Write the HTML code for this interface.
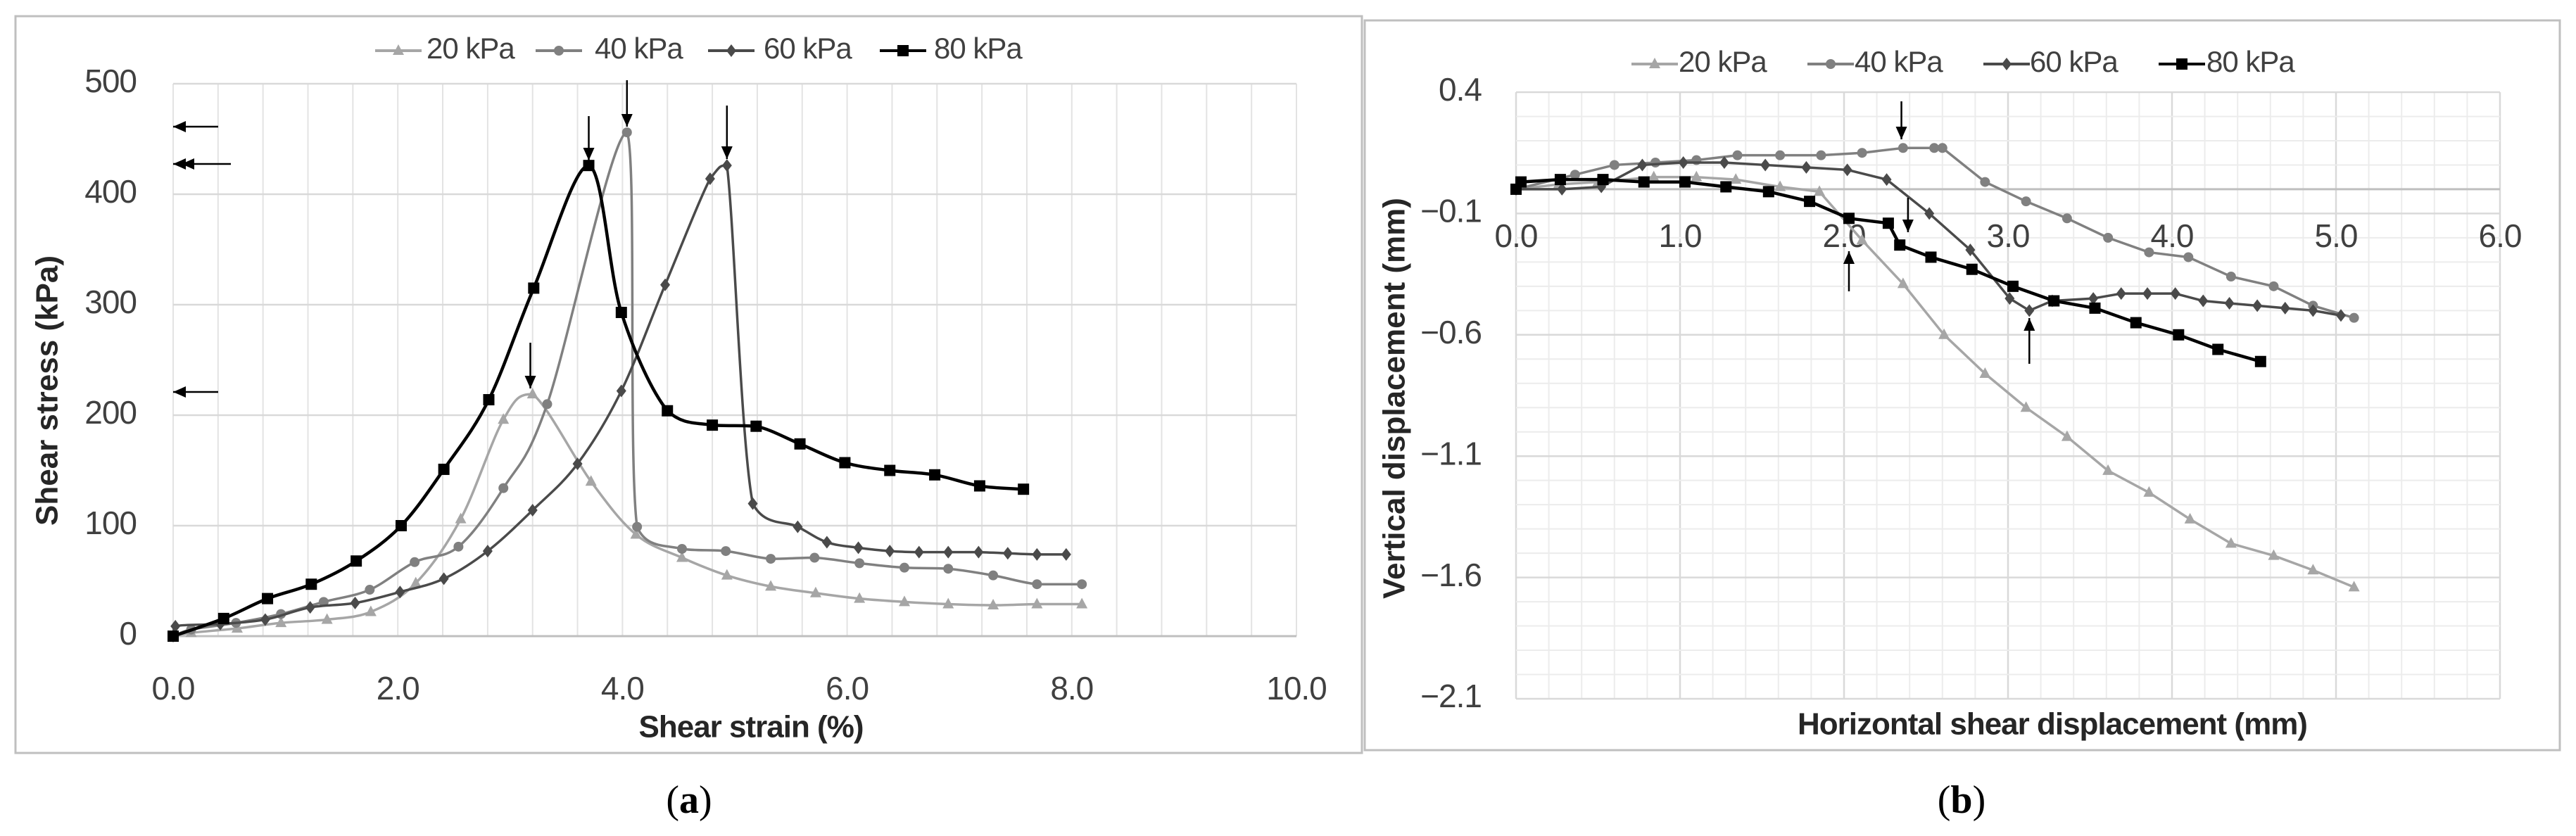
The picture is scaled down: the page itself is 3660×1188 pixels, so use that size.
<!DOCTYPE html>
<html><head><meta charset="utf-8"><style>
html,body{margin:0;padding:0;background:#fff;}
svg{display:block;font-family:"Liberation Sans",sans-serif;}
</style></head><body>
<svg id="fig" width="3660" height="1188" viewBox="0 0 3660 1188" xmlns="http://www.w3.org/2000/svg">
<rect x="22" y="23" width="1913" height="1047" fill="#fff" stroke="#bfbfbf" stroke-width="3"/>
<rect x="1939" y="29" width="1698" height="1037" fill="#fff" stroke="#bfbfbf" stroke-width="3"/>
<g id="ga"></g>
<g id="gb"></g>
<text x="70" y="555" transform="rotate(-90 70 555)" text-anchor="middle" dominant-baseline="middle" font-weight="bold" font-size="44" fill="#262626">Shear stress (kPa)</text>
<text x="1067" y="1036" text-anchor="middle" dominant-baseline="middle" font-weight="bold" font-size="44" fill="#262626" letter-spacing="-1">Shear strain (%)</text>
<text x="1984" y="566" transform="rotate(-90 1984 566)" text-anchor="middle" dominant-baseline="middle" font-weight="bold" font-size="44" fill="#262626">Vertical displacement (mm)</text>
<text x="2916" y="1032" text-anchor="middle" dominant-baseline="middle" font-weight="bold" font-size="44" fill="#262626" letter-spacing="-1">Horizontal shear displacement (mm)</text>
<text x="979" y="1142" text-anchor="middle" dominant-baseline="middle" font-family="Liberation Serif,serif" font-size="56">(<tspan font-weight="bold">a</tspan>)</text>
<text x="2787" y="1142" text-anchor="middle" dominant-baseline="middle" font-family="Liberation Serif,serif" font-size="56">(<tspan font-weight="bold">b</tspan>)</text>
</svg>
<script>
// ---------- data: panel a (shear strain %, shear stress kPa) ----------
const aX20=[0,0.16,0.57,0.96,1.37,1.76,2.16,2.56,2.94,3.20,3.72,4.12,4.53,4.93,5.32,5.72,6.11,6.51,6.90,7.30,7.69,8.09];
const aY20=[0,3,7,12,15,22,48,106,196,219,140,92,71,55,45,39,34,31,29,28,29,29];
const aX40=[0,0.16,0.56,0.96,1.34,1.75,2.15,2.54,2.94,3.33,4.04,4.13,4.53,4.92,5.32,5.71,6.11,6.51,6.90,7.30,7.69,8.09];
const aY40=[0,6,12,20,31,42,67,81,134,210,456,99,79,77,70,71,66,62,61,55,47,47];
const aX60=[0,0.02,0.42,0.82,1.22,1.62,2.02,2.41,2.80,3.20,3.60,3.99,4.38,4.78,4.93,5.16,5.56,5.82,6.10,6.38,6.64,6.90,7.17,7.43,7.69,7.95];
const aY60=[0,9,11,15,26,30,40,52,77,114,156,222,318,414,426,120,99,85,80,77,76,76,76,75,74,74];
const aX80=[0,0.45,0.84,1.23,1.63,2.03,2.41,2.81,3.21,3.70,3.99,4.40,4.80,5.19,5.58,5.98,6.38,6.78,7.18,7.57];
const aY80=[0,16,34,47,68,100,151,214,315,426,293,204,191,190,174,157,150,146,136,133];
const aXTicks=["0.0","2.0","4.0","6.0","8.0","10.0"];
const aYTicks=["0","100","200","300","400","500"];
// ---------- data: panel b (horizontal mm, vertical mm) ----------
const bX20=[0,0.26,0.50,0.84,1.10,1.34,1.61,1.85,2.11,2.36,2.61,2.86,3.11,3.36,3.61,3.86,4.11,4.36,4.62,4.86,5.11];
const bY20=[0,0.02,0.03,0.05,0.05,0.04,0.01,-0.01,-0.21,-0.39,-0.60,-0.76,-0.90,-1.02,-1.16,-1.25,-1.36,-1.46,-1.51,-1.57,-1.64];
const bX40=[0,0.36,0.60,0.85,1.10,1.35,1.61,1.86,2.11,2.36,2.55,2.60,2.86,3.11,3.36,3.61,3.86,4.10,4.36,4.62,4.86,5.11];
const bY40=[0,0.06,0.10,0.11,0.12,0.14,0.14,0.14,0.15,0.17,0.17,0.17,0.03,-0.05,-0.12,-0.20,-0.26,-0.28,-0.36,-0.40,-0.48,-0.53];
const bX60=[0,0.28,0.52,0.77,1.02,1.27,1.52,1.77,2.02,2.26,2.52,2.77,3.01,3.13,3.27,3.52,3.69,3.85,4.02,4.19,4.35,4.52,4.69,4.86,5.03];
const bY60=[0,0.0,0.01,0.10,0.11,0.11,0.10,0.09,0.08,0.04,-0.10,-0.25,-0.45,-0.50,-0.46,-0.45,-0.43,-0.43,-0.43,-0.46,-0.47,-0.48,-0.49,-0.50,-0.52];
const bX80=[0,0.03,0.27,0.53,0.78,1.03,1.28,1.54,1.79,2.03,2.27,2.34,2.53,2.78,3.03,3.28,3.53,3.78,4.04,4.28,4.54];
const bY80=[0,0.03,0.04,0.04,0.03,0.03,0.01,-0.01,-0.05,-0.12,-0.14,-0.23,-0.28,-0.33,-0.40,-0.46,-0.49,-0.55,-0.60,-0.66,-0.71];
const bXTicks=["0.0","1.0","2.0","3.0","4.0","5.0","6.0"];
const bYTicks=["0.4","-0.1","-0.6","-1.1","-1.6","-2.1"];
const legendLabels=["20 kPa","40 kPa","60 kPa","80 kPa"];

const NS="http://www.w3.org/2000/svg";
function mk(parent,tag,attrs){const e=document.createElementNS(NS,tag);for(const k in attrs)e.setAttribute(k,attrs[k]);parent.appendChild(e);return e;}
const colors=["#a6a6a6","#808080","#4a4a4a","#000000"];
const markers=["tri","circ","dia","sq"];
function marker(g,type,x,y,c){
  let e;
  if(type==="tri")e=mk(g,"polygon",{points:`${x},${y-9} ${x-8},${y+6} ${x+8},${y+6}`,fill:c});
  else if(type==="circ")e=mk(g,"circle",{cx:x,cy:y,r:7,fill:c});
  else if(type==="dia")e=mk(g,"polygon",{points:`${x},${y-9} ${x+7},${y} ${x},${y+9} ${x-7},${y}`,fill:c});
  else e=mk(g,"rect",{x:x-8,y:y-8,width:16,height:16,fill:c});
  
  
}
function clamp(v,a,b){const lo=Math.min(a,b),hi=Math.max(a,b);return Math.max(lo,Math.min(hi,v));}
function smoothPath(p){
  let d=`M${p[0][0]},${p[0][1]}`;
  for(let i=0;i<p.length-1;i++){
    const p0=p[Math.max(i-1,0)],p1=p[i],p2=p[i+1],p3=p[Math.min(i+2,p.length-1)];
    const c1=[p1[0]+(p2[0]-p0[0])/6,clamp(p1[1]+(p2[1]-p0[1])/6,p1[1],p2[1])];
    const c2=[p2[0]-(p3[0]-p1[0])/6,clamp(p2[1]-(p3[1]-p1[1])/6,p1[1],p2[1])];
    c1[0]=clamp(c1[0],p1[0],p2[0]);c2[0]=clamp(c2[0],p1[0],p2[0]);
    d+=` C${c1[0]},${c1[1]} ${c2[0]},${c2[1]} ${p2[0]},${p2[1]}`;
  }
  return d;
}
function arrow(g,x1,y1,x2,y2,dbl){
  const l=mk(g,"line",{x1,y1,x2,y2,stroke:"#000","stroke-width":2.5});
  
  
  const ang=Math.atan2(y2-y1,x2-x1),L=18,W=8;
  const head=(hx,hy)=>{const bx=hx-L*Math.cos(ang),by=hy-L*Math.sin(ang);
    const h=mk(g,"polygon",{points:`${hx},${hy} ${bx-W*Math.sin(ang)},${by+W*Math.cos(ang)} ${bx+W*Math.sin(ang)},${by-W*Math.cos(ang)}`,fill:"#000"});
    
    };
  head(x2,y2);
  if(dbl)head(x2-12*Math.cos(ang),y2-12*Math.sin(ang));
}
function legend(g,y,lineX,textX){
  for(let i=0;i<4;i++){
    const lg=mk(g,"g",{});
    
    
    const ln=mk(lg,"line",{x1:lineX[i],y1:y,x2:lineX[i]+66,y2:y,stroke:colors[i],"stroke-width":4});
    
    
    marker(lg,markers[i],lineX[i]+33,y,colors[i]);
    const t=mk(lg,"text",{x:textX[i],y:y,"dominant-baseline":"middle","font-size":42,fill:"#404040","letter-spacing":"-1"});
    t.textContent=legendLabels[i];
    
    
  }
}

// ---------- panel a ----------
(function(){
  const g=document.getElementById("ga");
  const L=246,R=1842,T=119,B=904;
  const sx=v=>L+(R-L)*v/10, sy=v=>B-(B-T)*v/500;
  for(let i=0;i<=25;i++){const x=sx(i*0.4);const l=mk(g,"line",{x1:x,y1:T,x2:x,y2:B,stroke:"#e3e3e3","stroke-width":2});
    }
  aYTicks.forEach((t,i)=>{const v=+t,y=sy(v);
    const l=mk(g,"line",{x1:L,y1:y,x2:R,y2:y,stroke:"#d9d9d9","stroke-width":2.5});
    
    const tx=mk(g,"text",{x:194,y:y,"text-anchor":"end","dominant-baseline":"middle","font-size":46,fill:"#404040","letter-spacing":"-1"});
    tx.textContent=t;});
  const ax=mk(g,"line",{x1:L,y1:B,x2:R,y2:B,stroke:"#bfbfbf","stroke-width":3});
  
  aXTicks.forEach(t=>{const tx=mk(g,"text",{x:sx(+t),y:982,"text-anchor":"middle","dominant-baseline":"middle","font-size":46,fill:"#404040","letter-spacing":"-1"});
    tx.textContent=t;});
  const series=[[aX20,aY20],[aX40,aY40],[aX60,aY60],[aX80,aY80]];
  series.forEach((s,i)=>{
    const sg=mk(g,"g",{});
    
    
    const pts=s[0].map((x,j)=>[sx(x),sy(s[1][j])]);
    const p=mk(sg,"path",{d:smoothPath(pts),fill:"none",stroke:colors[i],"stroke-width":i===3?4.5:3.5});
    
    pts.forEach(q=>marker(sg,markers[i],q[0],q[1],colors[i]));
  });
  arrow(g,sx(3.70),165,sx(3.70),228);
  arrow(g,sx(4.04),114,sx(4.04),180);
  arrow(g,sx(4.93),150,sx(4.93),226);
  arrow(g,sx(3.18),487,sx(3.18),552);
  arrow(g,310,180,L,180);
  arrow(g,328,233,L,233,true);
  arrow(g,310,557,L,557);
  legend(g,72,[533,761,1006,1250],[606,845,1085,1327]);
})();

// ---------- panel b ----------
(function(){
  const g=document.getElementById("gb");
  const L=2154,R=3552,T=131,B=993;
  const sx=v=>L+(R-L)*v/6, sy=v=>T+(B-T)*(0.4-v)/2.5;
  for(let i=0;i<=30;i++){const x=sx(i*0.2);const major=i%5===0;
    const l=mk(g,"line",{x1:x,y1:T,x2:x,y2:B,stroke:major?"#d9d9d9":"#ececec","stroke-width":major?2.5:2});
    }
  for(let i=0;i<=25;i++){const y=T+(B-T)*i/25;const major=i%5===0;
    const l=mk(g,"line",{x1:L,y1:y,x2:R,y2:y,stroke:major?"#d9d9d9":"#ececec","stroke-width":major?2.5:2});
    }
  bYTicks.forEach(t=>{const y=sy(+t);
    const tx=mk(g,"text",{x:2105,y:y,"text-anchor":"end","dominant-baseline":"middle","font-size":46,fill:"#404040","letter-spacing":"-1"});
    tx.textContent=t.replace('-','\u2212');});
  const ax=mk(g,"line",{x1:L,y1:sy(0),x2:R,y2:sy(0),stroke:"#bfbfbf","stroke-width":3});
  
  bXTicks.forEach(t=>{const tx=mk(g,"text",{x:sx(+t),y:sy(0)+70,"text-anchor":"middle","dominant-baseline":"middle","font-size":46,fill:"#404040","letter-spacing":"-1"});
    tx.textContent=t;});
  const series=[[bX20,bY20],[bX40,bY40],[bX60,bY60],[bX80,bY80]];
  series.forEach((s,i)=>{
    const sg=mk(g,"g",{});
    
    
    const pts=s[0].map((x,j)=>[sx(x),sy(s[1][j])]);
    const p=mk(sg,"polyline",{points:pts.map(q=>q.join(",")).join(" "),fill:"none",stroke:colors[i],"stroke-width":i===3?4.5:3.5,"stroke-linejoin":"round"});
    
    pts.forEach(q=>marker(sg,markers[i],q[0],q[1],colors[i]));
  });
  arrow(g,sx(2.35),144,sx(2.35),198);
  arrow(g,sx(2.39),281,sx(2.39),330);
  arrow(g,sx(2.03),414,sx(2.03),357);
  arrow(g,sx(3.13),517,sx(3.13),452);
  legend(g,91,[2318,2568,2818,3067],[2385,2635,2884,3135]);
})();
</script>
</body></html>
